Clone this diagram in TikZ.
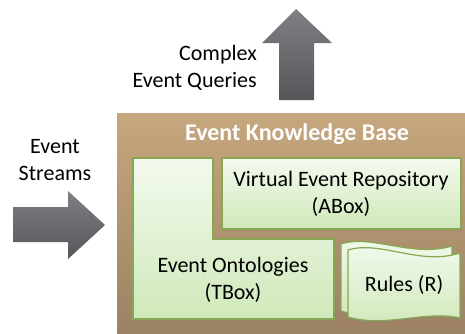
\documentclass[tikz,border=0pt]{standalone}
\usepackage{fontspec}
\setmainfont{Carlito}
\usetikzlibrary{shadows}
\definecolor{arrowtop}{HTML}{7E8084}
\definecolor{arrowbot}{HTML}{55565A}
\definecolor{kbtop}{HTML}{C6A77E}
\definecolor{kbbot}{HTML}{9C8264}
\definecolor{greentop}{HTML}{F3FAEE}
\definecolor{greenbot}{HTML}{D0E8BA}
\definecolor{greenline}{HTML}{86A852}
\tikzset{
  bigarrow/.style={top color=arrowtop, bottom color=arrowbot, draw=none},
  greenbox/.style={top color=greentop, bottom color=greenbot, draw=greenline, line width=1.2pt,
     drop shadow={opacity=0.3, shadow xshift=1pt, shadow yshift=-1.5pt}},
  lbl/.style={font=\fontsize{22}{27}\selectfont, align=center, inner sep=0pt},
}
\begin{document}
\begin{tikzpicture}[x=1pt,y=-1pt]
\useasboundingbox (0,0) rectangle (465,333);
% knowledge base background
\fill[top color=kbtop, bottom color=kbbot] (117,113) rectangle (465,333);
\node[lbl, font=\fontsize{24}{28}\selectfont\bfseries, text=white] (kbtitle) at (297,134) {Event Knowledge Base};
% up arrow
\path[bigarrow] (296,9) -- (332,43) -- (314,43) -- (314,100) -- (279,100) -- (279,43) -- (262,43) -- cycle;
\node[lbl, align=right, anchor=east] (queries) at (257,68) {Complex\\Event Queries};
% right arrow
\path[bigarrow] (13,207) -- (68,207) -- (68,191) -- (105,225) -- (68,259) -- (68,242) -- (13,242) -- cycle;
\node[lbl] (streams) at (55,160) {Event\\Streams};
% TBox L-shape
\path[greenbox] (133,158) -- (213,158) -- (213,239) -- (334,239) -- (334,319) -- (133,319) -- cycle;
\node[lbl] (tbox) at (233,280) {Event Ontologies\\(TBox)};
% ABox
\path[greenbox] (222,158) rectangle (461,229);
\node[lbl] (abox) at (341,194) {Virtual Event Repository\\(ABox)};
% Rules
\path[greenbox] (341,244) .. controls (372,234) and (412,258) .. (452,246) -- (452,310)
   .. controls (412,304) and (372,321) .. (341,311) -- cycle;
\path[greenbox] (348,250) .. controls (380,240) and (420,266) .. (460,253) -- (460,318)
   .. controls (425,310) and (385,328) .. (348,317) -- cycle;
\node[lbl] (rules) at (404,285) {Rules (R)};
\end{tikzpicture}
\end{document}
